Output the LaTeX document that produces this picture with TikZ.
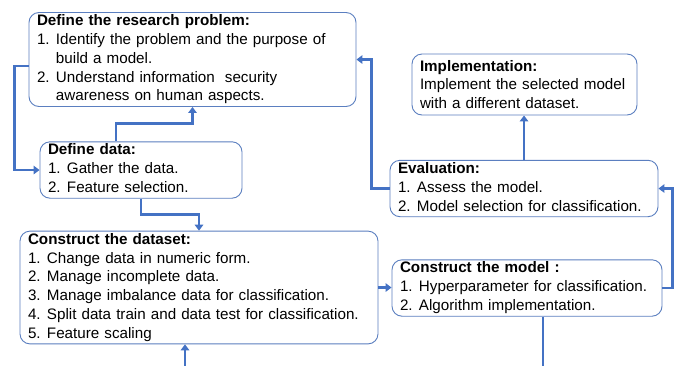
\documentclass[tikz,border=0pt]{standalone}
\usepackage{fontspec}
\setmainfont{Liberation Sans}
\usetikzlibrary{arrows.meta,calc}
\definecolor{boxblue}{HTML}{5B7FC0}
\definecolor{linkblue}{HTML}{4472C4}

\tikzset{
  box/.style={draw=boxblue, line width=0.9pt, rounded corners=10pt, fill=white,
    inner xsep=8pt, inner ysep=0pt, align=left, anchor=center,
    font=\fontsize{15.2}{18.8}\selectfont},
  conn/.style={draw=linkblue, line width=2.6pt, -{Triangle[length=6pt,width=8.5pt]}},
  wire/.style={draw=linkblue, line width=2.6pt}
}
\newcommand{\steplist}[2]{\begin{tabular}{@{}l@{\hspace{6.3pt}}l@{}}\multicolumn{2}{@{}l@{}}{\textbf{#1}}\\#2\end{tabular}}

\begin{document}
\begin{tikzpicture}[x=1pt,y=-1pt]
\useasboundingbox (0,0) rectangle (680,365);
\fill[white] (0,0) rectangle (680,365);
\node[box, minimum width=327pt, minimum height=93pt, text width=311pt] (prob) at (192.5,59.5)
  {\steplist{Define the research problem:}{1. & Identify the problem and the purpose of\\ & build a model.\\2. & Understand information\ \ security\\ & awareness on human aspects.}};
\node[box, minimum width=202pt, minimum height=54pt, text width=186pt] (ddata) at (141,170)
  {\steplist{Define data:}{1. & Gather the data.\\2. & Feature selection.}};
\node[box, minimum width=358pt, minimum height=111pt, text width=342pt] (dset) at (199,287.5)
  {\steplist{Construct the dataset:}{1. & Change data in numeric form.\\2. & Manage incomplete data.\\3. & Manage imbalance data for classification.\\4. & Split data train and data test for classification.\\5. & Feature scaling}};
\node[box, minimum width=270pt, minimum height=54pt, text width=254pt] (model) at (527,288)
  {\steplist{Construct the model :}{1. & Hyperparameter for classification.\\2. & Algorithm implementation.}};
\node[box, minimum width=268pt, minimum height=53pt, text width=252pt] (eval) at (524,188.5)
  {\steplist{Evaluation:}{1. & Assess the model.\\2. & Model selection for classification.}};
\node[box, minimum width=225pt, minimum height=61pt, text width=209pt] (impl) at (524.5,84.5)
  {\textbf{Implementation:}\\Implement the selected model\\with a different dataset.};
\coordinate (inA) at (185,366);
\coordinate (outA) at (543,366);
% arrows
\draw[conn] ([yshift=-6.5pt]prob.west) -- ++(-14,0) |- (ddata.west);
\draw[conn] ([xshift=-25pt]ddata.north) -- ++(0,-18) -| (prob.south);
\draw[conn] (ddata.south) -- ++(0,16) -| (dset.north);
\draw[conn] (inA) -- (inA |- dset.south);
\draw[conn] (dset.east) -- (dset.east -| model.west);
\draw[conn] (model.east) -- ++(10,0) |- (eval.east);
\draw[conn] (eval.west) -- ++(-18,0) |- (prob.east);
\draw[conn] (eval.north) -- (eval.north |- impl.south);
\draw[wire] ([xshift=16pt]model.south) -- (outA);
\end{tikzpicture}
\end{document}
